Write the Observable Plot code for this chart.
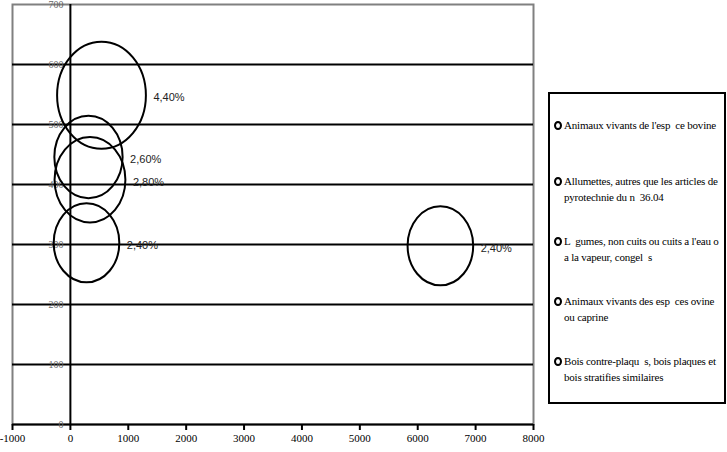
<!DOCTYPE html>
<html>
<head>
<meta charset="utf-8">
<script src="https://cdn.jsdelivr.net/npm/d3@7"></script>
<script src="https://cdn.jsdelivr.net/npm/@observablehq/plot@0.6"></script>
<style>
  html, body { margin: 0; padding: 0; background: #fff; }
  #wrap { position: relative; width: 727px; height: 452px; }
  #legend {
    position: absolute; left: 548px; top: 92px; width: 174px; height: 308px;
    border: 2px solid #000; background: #fff;
    font-family: 'Liberation Serif', 'Times New Roman', Tinos, 'DejaVu Serif', serif; font-size: 11px; color: #000;
  }
  .item { position: absolute; left: 4px; white-space: pre; line-height: 16px; }
  .mk { position: absolute; left: 0; top: 4px; width: 4px; height: 5px; border: 2px solid #000; border-radius: 50%; }
  .tx { margin-left: 10px; letter-spacing: -0.2px; }
</style>
</head>
<body>
<div id="wrap"></div>
<script>
// Series (legend order)
const seriesNames = [
  "Animaux vivants de l'esp  ce bovine",
  "Allumettes, autres que les articles de\npyrotechnie du n  36.04",
  "L  gumes, non cuits ou cuits a l'eau o\na la vapeur, congel  s",
  "Animaux vivants des esp  ces ovine\nou caprine",
  "Bois contre-plaqu  s, bois plaques et\nbois stratifies similaires"
];
const xValues = [546, 321, 347, 287, 6400];
const yValues = [548, 445, 407, 302, 297];
const bubbleSizes = [4.4, 2.6, 2.8, 2.4, 2.4];
const bubbleLabels = ["4,40%", "2,60%", "2,80%", "2,40%", "2,40%"];
const xTicks = [-1000, 0, 1000, 2000, 3000, 4000, 5000, 6000, 7000, 8000];
const yTicks = [0, 100, 200, 300, 400, 500, 600, 700];
const gridY = [100, 200, 300, 400, 500, 600];

const rows = xValues.map((x, i) => ({x, y: yValues[i], s: bubbleSizes[i], label: bubbleLabels[i]}));
const aspect = 0.83; // horizontal squash of bubbles
const rMax = 53.5;
const rOf = s => Math.sqrt(s / d3.max(bubbleSizes)) * rMax;
const serif = "'Liberation Serif', 'Times New Roman', Tinos, 'DejaVu Serif', serif";

const ellipseRender = (index, scales, values) => {
  const g = d3.create("svg:g");
  for (const i of index) {
    g.append("ellipse")
      .attr("cx", values.x[i]).attr("cy", values.y[i])
      .attr("rx", values.r[i] * aspect).attr("ry", values.r[i])
      .attr("fill", "none").attr("stroke", "#000").attr("stroke-width", 2);
  }
  return g.node();
};

const chart = Plot.plot({
  width: 727,
  height: 452,
  marginLeft: 12,
  marginRight: 194,
  marginTop: 4,
  marginBottom: 28,
  x: {domain: [-1000, 8000], label: null},
  y: {domain: [0, 700], axis: null, label: null},
  r: {type: "sqrt", domain: [0, d3.max(bubbleSizes)], range: [0, rMax]},
  style: {background: "#fff"},
  marks: [
    Plot.frame({stroke: "#808080", strokeWidth: 2}),
    Plot.ruleY(gridY, {stroke: "#000", strokeWidth: 2}),
    Plot.ruleY([0], {stroke: "#000", strokeWidth: 2}),
    Plot.ruleX([0], {stroke: "#000", strokeWidth: 2}),
    Plot.axisX({ticks: xTicks, tickSize: 6, tickPadding: 4, tickFormat: d => String(d), label: null,
      fontFamily: serif, fontSize: 11, stroke: "#000", strokeWidth: 2, fill: "#000"}),
    Plot.text(yTicks, {x: () => 0, y: d => d, text: d => String(d), dx: -7, textAnchor: "end",
      fontFamily: serif, fontSize: 10, fill: "#666"}),
    Plot.dot(rows, {x: "x", y: "y", r: "s", render: ellipseRender}),
    ...rows.map(d => Plot.text([d], {x: "x", y: "y", text: "label", textAnchor: "start",
      dx: rOf(d.s) * aspect + 7, dy: 2, fontFamily: "'Liberation Sans', Arial, sans-serif", fontSize: 11, fill: "#222"}))
  ]
});

const wrap = document.getElementById("wrap");
wrap.appendChild(chart);

const legend = document.createElement("div");
legend.id = "legend";
seriesNames.forEach((name, i) => {
  const nLines = name.split("\n").length;
  const center = (i === 0 ? 31 : 35 + i * 60); // slot centre within legend box
  const item = document.createElement("div");
  item.className = "item";
  item.style.top = (center - nLines * 8) + "px";
  const mk = document.createElement("span"); mk.className = "mk";
  const tx = document.createElement("div"); tx.className = "tx"; tx.textContent = name;
  item.appendChild(mk); item.appendChild(tx);
  legend.appendChild(item);
});
wrap.appendChild(legend);
</script>
</body>
</html>
